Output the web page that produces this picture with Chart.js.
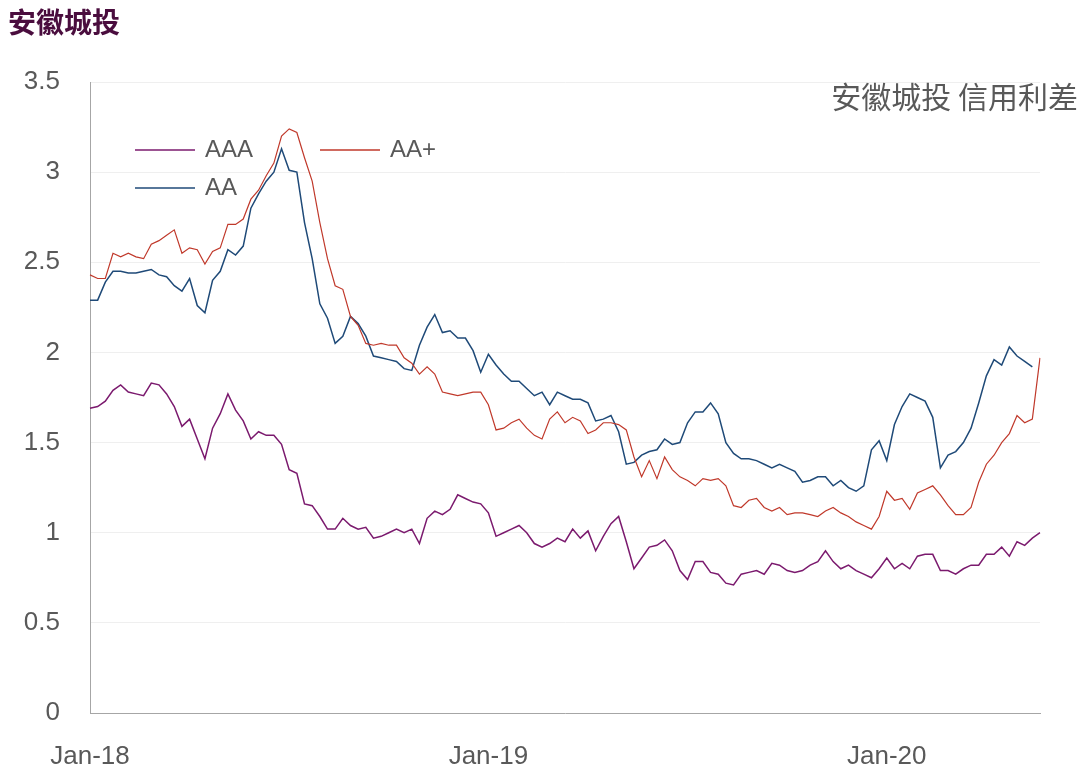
<!DOCTYPE html>
<html>
<head>
<meta charset="utf-8">
<script src="https://cdn.jsdelivr.net/npm/chart.js@4/dist/chart.umd.min.js"></script>
<style>
  body { margin: 0; background: #fff; }
  #wrap { width: 1078px; height: 780px; position: relative; }
</style>
</head>
<body>
<div id="wrap"><canvas id="chart"></canvas></div>
<script>
// weekly spreads, Jan-18 .. May-20
const aaa = [1.69,1.70,1.73,1.79,1.82,1.78,1.77,1.76,1.83,1.82,1.77,1.70,1.59,1.63,1.52,1.41,1.58,1.66,1.77,1.68,1.62,1.52,1.56,1.54,1.54,1.49,1.35,1.33,1.16,1.15,1.09,1.02,1.02,1.08,1.04,1.02,1.03,0.97,0.98,1.00,1.02,1.00,1.02,0.94,1.08,1.12,1.10,1.13,1.21,1.19,1.17,1.16,1.11,
  0.98,1.00,1.02,1.04,1.00,0.94,0.92,0.94,0.97,0.95,1.02,0.97,1.01,0.90,0.98,1.05,1.09,0.95,0.80,0.86,0.92,0.93,0.96,0.90,0.79,0.74,0.84,0.84,0.78,0.77,0.72,0.71,0.77,0.78,0.79,0.77,0.83,0.82,0.79,0.78,0.79,0.82,0.84,0.90,0.84,0.80,0.82,0.79,0.77,0.75,0.80,0.86,
  0.80,0.83,0.80,0.87,0.88,0.88,0.79,0.79,0.77,0.80,0.82,0.82,0.88,0.88,0.92,0.87,0.95,0.93,0.97,1.00];
const aaPlus = [2.43,2.41,2.41,2.55,2.53,2.55,2.53,2.52,2.60,2.62,2.65,2.68,2.55,2.58,2.57,2.49,2.56,2.58,2.71,2.71,2.74,2.85,2.90,2.98,3.05,3.20,3.24,3.22,3.08,2.95,2.72,2.52,2.37,2.35,2.20,2.15,2.05,2.04,2.05,2.04,2.04,1.97,1.94,1.88,1.92,1.88,1.78,1.77,1.76,1.77,1.78,1.78,1.71,
  1.57,1.58,1.61,1.63,1.58,1.54,1.52,1.63,1.67,1.61,1.64,1.62,1.55,1.57,1.61,1.61,1.60,1.57,1.42,1.31,1.40,1.30,1.42,1.35,1.31,1.29,1.26,1.30,1.29,1.30,1.26,1.15,1.14,1.18,1.19,1.14,1.12,1.14,1.10,1.11,1.11,1.10,1.09,1.12,1.14,1.11,1.09,1.06,1.04,1.02,1.09,1.23,
  1.18,1.19,1.13,1.22,1.24,1.26,1.21,1.15,1.10,1.10,1.14,1.28,1.38,1.43,1.50,1.55,1.65,1.61,1.63,1.97];
const aa = [2.29,2.29,2.39,2.45,2.45,2.44,2.44,2.45,2.46,2.43,2.42,2.37,2.34,2.41,2.26,2.22,2.40,2.45,2.57,2.54,2.59,2.80,2.88,2.95,3.00,3.13,3.01,3.00,2.72,2.52,2.27,2.19,2.05,2.09,2.20,2.16,2.09,1.98,1.97,1.96,1.95,1.91,1.90,2.04,2.14,2.21,2.11,2.12,2.08,2.08,2.01,1.89,1.99,
  1.93,1.88,1.84,1.84,1.80,1.76,1.78,1.71,1.78,1.76,1.74,1.74,1.72,1.62,1.63,1.65,1.56,1.38,1.39,1.43,1.45,1.46,1.52,1.49,1.50,1.61,1.67,1.67,1.72,1.66,1.50,1.44,1.41,1.41,1.40,1.38,1.36,1.38,1.36,1.34,1.28,1.29,1.31,1.31,1.26,1.29,1.25,1.23,1.26,1.46,1.51,
  1.40,1.60,1.70,1.77,1.75,1.73,1.64,1.36,1.43,1.45,1.50,1.58,1.72,1.87,1.96,1.93,2.03,1.98,1.95,1.92];
const yearTicks = {0: 'Jan-18', 52: 'Jan-19', 104: 'Jan-20'};
const nPts = Math.max(aaa.length, aaPlus.length, aa.length);
const labels = [];
for (let i = 0; i < nPts; i++) labels.push(i);

const legendItems = [
  {label: 'AAA', color: '#7b1a6e', x: 135, y: 150},
  {label: 'AA+', color: '#c0392b', x: 320, y: 150},
  {label: 'AA', color: '#1f4a78', x: 135, y: 188}
];

const overlay = {
  id: 'overlay',
  afterDraw(chart) {
    const ctx = chart.ctx;
    ctx.save();
    ctx.font = '24px "Liberation Sans", sans-serif';
    ctx.textBaseline = 'middle';
    legendItems.forEach(function (it) {
      ctx.strokeStyle = it.color;
      ctx.lineWidth = 1.5;
      ctx.beginPath();
      ctx.moveTo(it.x, it.y);
      ctx.lineTo(it.x + 60, it.y);
      ctx.stroke();
      ctx.fillStyle = '#595959';
      ctx.fillText(it.label, it.x + 70, it.y);
    });
    ctx.font = '30px "Noto Sans CJK SC", sans-serif';
    ctx.textAlign = 'right';
    ctx.fillText('安徽城投 信用利差', 1078, 97);
    // chart title
    ctx.textAlign = 'left';
    ctx.fillStyle = '#4a0d3e';
    ctx.font = 'bold 28px "Noto Sans CJK SC", sans-serif';
    ctx.fillText('安徽城投', 8, 22);
    ctx.restore();
  }
};

new Chart(document.getElementById('chart'), {
  type: 'line',
  data: {
    labels: labels,
    datasets: [
      {label: 'AAA', data: aaa, borderColor: '#7b1a6e', borderWidth: 1.5, pointRadius: 0, tension: 0},
      {label: 'AA+', data: aaPlus, borderColor: '#c0392b', borderWidth: 1.2, pointRadius: 0, tension: 0},
      {label: 'AA', data: aa, borderColor: '#1f4a78', borderWidth: 1.5, pointRadius: 0, tension: 0}
    ]
  },
  options: {
    responsive: true,
    maintainAspectRatio: false,
    animation: false,
    layout: {padding: {left: 0, right: 38, top: 82, bottom: 0}},
    plugins: {
      legend: {display: false},
      tooltip: {enabled: false},
      title: {display: false}
    },
    scales: {
      x: {
        type: 'category',
        offset: false,
        grid: {display: false},
        border: {color: '#a6a6a6'},
        afterFit: function (s) { s.height = 67; },
        ticks: {
          autoSkip: false, maxRotation: 0, color: '#595959', padding: 20,
          font: {size: 26, family: '"Liberation Sans", sans-serif'},
          callback: function (v, i) { return yearTicks[i] || null; }
        }
      },
      y: {
        min: 0, max: 3.5,
        afterFit: function (s) { s.width = 90; },
        ticks: {
          stepSize: 0.5, color: '#595959', padding: 30,
          font: {size: 26, family: '"Liberation Sans", sans-serif'},
          callback: function (v) { return String(v); }
        },
        grid: {color: '#efefef', drawTicks: false},
        border: {color: '#a6a6a6'}
      }
    }
  },
  plugins: [overlay]
});
</script>
</body>
</html>
